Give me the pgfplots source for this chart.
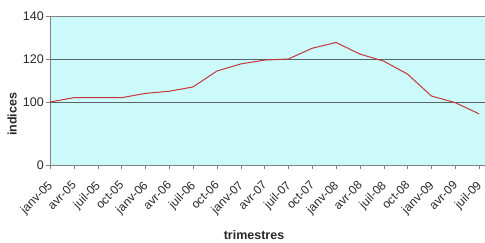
\documentclass[border=0pt]{standalone}
\usepackage{pgfplots}
\pgfplotsset{compat=1.18}
\usepackage{fontspec}
\setmainfont{Liberation Sans}
\definecolor{bgc}{RGB}{204,250,250}
\definecolor{linec}{RGB}{195,55,55}
\definecolor{gridc}{RGB}{90,100,100}
\definecolor{axc}{RGB}{130,130,130}
\definecolor{txtc}{RGB}{40,40,40}
\begin{document}
\begin{tikzpicture}[x=1pt,y=1pt]
\begin{axis}[
  at={(50pt,77pt)}, anchor=origin,
  scale only axis, width=435pt, height=149pt,
  xmin=0, xmax=18.25, ymin=70.7, ymax=140,
  axis background/.style={fill=bgc},
  axis line style={axc},
  axis x line*=bottom, axis y line*=left,
  xtick={0,...,18},
  xticklabels={janv-05,avr-05,juil-05,oct-05,janv-06,avr-06,juil-06,oct-06,janv-07,avr-07,juil-07,oct-07,janv-08,avr-08,juil-08,oct-08,janv-09,avr-09,juil-09},
  xticklabel style={xshift=-3pt, yshift=-11pt, rotate=45, anchor=north east, font=\fontsize{12}{13}\selectfont, text=txtc, inner sep=0pt},
  ytick={70.7,100,120,140},
  yticklabels={0,100,120,140},
  yticklabel style={font=\fontsize{12.5}{14}\selectfont, text=txtc, inner sep=2pt},
  ymajorgrids, grid style={gridc, line width=0.7pt},
  tick align=outside, major tick length=4pt,
  tick style={axc},
  xlabel={\textbf{trimestres}},
  xlabel style={at={(axis description cs:0.469,-0.47)}, anchor=center, font=\fontsize{12.5}{14}\selectfont, text=txtc},
  ylabel={\textbf{indices}},
  ylabel style={at={(axis description cs:-0.087,0.34)}, anchor=center, rotate=0, font=\fontsize{12.5}{14}\selectfont, text=txtc},
  clip=false,
]
\draw[axc] (axis cs:0,140) -- (axis cs:18.25,140);
\addplot[linec, line width=1pt, mark=none] coordinates {
(0,100) (1,102) (2,102) (3,102) (4,104) (5,105) (6,107) (7,114.4) (8,117.7)
(9,119.5) (10,120) (11,125) (12,127.7) (13,122.3) (14,119) (15,113)
(16,102.8) (17,99.7) (18,94.5)
};
\end{axis}
\pgfresetboundingbox
\useasboundingbox (0,0) rectangle (485pt,242pt);
\end{tikzpicture}
\end{document}
